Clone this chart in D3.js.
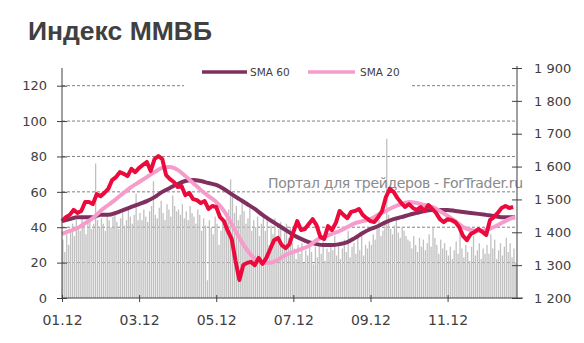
<!DOCTYPE html>
<html>
<head>
<meta charset="utf-8">
<script src="https://cdn.jsdelivr.net/npm/d3@7"></script>
<style>
  body { margin: 0; background: #fff; }
  svg { display: block; }
  .axis text { font-family: "DejaVu Sans", sans-serif; fill: #404040; }
</style>
</head>
<body>
<div id="chart"></div>
<script>
// month tick labels (every 2nd month), index of first trading day for each
const monthLabels = ["01.12", "03.12", "05.12", "07.12", "09.12", "11.12"];
const monthStarts = [0, 40, 80, 120, 160, 200];

// volume bars (left axis), 20 trading days per month, Dec cut at 16
const volJan = [33,26,36,30,38,42,35,44,40,38,45,41,36,43,47,39,42,76,44,40];
const volFeb = [45,42,38,47,44,40,46,49,43,39,45,48,41,44,50,46,42,47,59,44];
const volMar = [48,44,50,46,43,49,52,66,47,45,51,55,48,44,53,50,46,58,52,49];
const volApr = [50,47,53,45,49,44,52,48,46,42,50,47,38,45,41,10,44,40,36,46];
const volMay = [42,30,38,45,40,46,50,67,58,48,52,44,47,55,49,42,45,51,38,44];
const volJun = [40,46,35,42,48,38,44,30,41,36,45,33,39,43,28,37,42,34,40,31];
const volJul = [28,22,30,25,31,20,27,24,32,26,19,29,23,30,25,33,21,28,26,30];
const volAug = [27,35,24,30,22,28,33,26,38,23,29,31,25,34,27,36,24,30,28,32];
const volSep = [30,36,33,40,44,35,38,42,90,47,39,36,41,45,37,34,40,38,35,33];
const volOct = [32,28,35,30,26,34,29,33,27,31,36,29,40,34,30,25,33,28,31,27];
const volNov = [24,29,22,27,32,25,37,28,23,30,26,21,29,35,24,27,31,22,28,25];
const volDec = [30,25,36,28,33,22,27,31,24,29,34,26,31,23,28,20];

// MICEX index, every 2nd trading day (right axis)
const micex = [1434,1446,1453,1468,1459,1465,1492,1492,1486,1516,1510,1520,1532,1559,1568,1583,
  1578,1571,1593,1583,1596,1605,1614,1587,1623,1632,1623,1574,1562,1553,1538,1541,1513,1520,
  1501,1498,1489,1495,1471,1480,1477,1446,1434,1404,1380,1313,1255,1300,1307,1310,1300,1322,
  1304,1322,1349,1376,1383,1361,1352,1364,1401,1434,1407,1410,1425,1440,1422,1386,1380,1419,
  1407,1428,1465,1453,1443,1462,1465,1471,1453,1443,1434,1431,1446,1465,1507,1532,1523,1504,
  1489,1477,1486,1474,1468,1477,1465,1483,1471,1459,1440,1431,1440,1437,1431,1416,1389,1376,
  1395,1401,1410,1401,1392,1437,1446,1459,1474,1480,1474,1477];

// moving averages, every 4th trading day (last point = last day)
const sma20 = [1395,1404,1413,1428,1443,1465,1483,1501,1520,1538,1553,1568,1583,1596,1599,1590,
  1571,1550,1529,1510,1492,1465,1425,1383,1346,1319,1307,1307,1316,1331,1340,1349,1358,1376,
  1386,1395,1404,1416,1428,1434,1440,1453,1465,1477,1486,1492,1489,1483,1477,1465,1450,1434,
  1416,1407,1404,1407,1416,1428,1440,1446];
const sma60 = [1434,1440,1446,1446,1446,1453,1453,1459,1468,1477,1486,1495,1507,1523,1535,1547,
  1556,1559,1556,1550,1544,1532,1516,1501,1486,1471,1453,1437,1422,1407,1392,1380,1370,1364,
  1361,1361,1364,1370,1383,1398,1410,1419,1431,1440,1446,1453,1459,1465,1468,1468,1468,1465,
  1462,1459,1456,1453,1450,1446,1446,1446];

const volume = [].concat(volJan, volFeb, volMar, volApr, volMay, volJun,
                         volJul, volAug, volSep, volOct, volNov, volDec);
const lastDay = volume.length - 1;

const width = 584, height = 343;
const plotLeft = 62, plotRight = 517, plotTop = 68, plotBottom = 298;

const svg = d3.select("#chart").append("svg")
    .attr("width", width)
    .attr("height", height);

const x = d3.scaleLinear().domain([0, 236]).range([plotLeft, plotRight]);
const yVol = d3.scaleLinear().domain([0, 130]).range([plotBottom, plotTop]);
const yIdx = d3.scaleLinear().domain([1200, 1900]).range([plotBottom, plotTop]);

// title
svg.append("text")
    .attr("x", 28)
    .attr("y", 40)
    .style("font-family", "'Liberation Sans', Arial, sans-serif")
    .style("font-weight", "bold")
    .style("font-size", "26.5px")
    .style("fill", "#404040")
    .text("Индекс ММВБ");

// dashed grid
svg.append("g")
    .selectAll("line")
    .data([20, 40, 60, 80, 100, 120])
    .enter()
    .append("line")
    .attr("x1", plotLeft)
    .attr("x2", plotRight)
    .attr("y1", d => yVol(d))
    .attr("y2", d => yVol(d))
    .attr("stroke", "#808080")
    .attr("stroke-width", 1)
    .style("stroke-dasharray", "3,2");

// volume bars
svg.append("g")
    .selectAll("rect")
    .data(volume)
    .enter()
    .append("rect")
    .attr("x", (d, i) => x(i) + 0.2)
    .attr("width", 1.3)
    .attr("y", d => yVol(d))
    .attr("height", d => plotBottom - yVol(d))
    .attr("fill", "#c0c0c0");

// watermark
svg.append("text")
    .attr("x", 268)
    .attr("y", 188)
    .attr("textLength", 255)
    .style("font-family", "'DejaVu Sans', sans-serif")
    .style("font-size", "14px")
    .style("fill", "#8a8a8a")
    .text("Портал для трейдеров - ForTrader.ru");

function series(vals, step) {
    return vals.map((v, i) => ({ i: Math.min(i * step, lastDay), v: v }));
}

const line = d3.line()
    .x(d => x(d.i))
    .y(d => yIdx(d.v))
    .curve(d3.curveMonotoneX);

svg.append("path")
    .datum(series(sma60, 4))
    .attr("d", line)
    .attr("fill", "none")
    .attr("stroke", "#80305f")
    .attr("stroke-width", 4);

svg.append("path")
    .datum(series(sma20, 4))
    .attr("d", line)
    .attr("fill", "none")
    .attr("stroke", "#f59ccb")
    .attr("stroke-width", 4);

svg.append("path")
    .datum(series(micex, 2))
    .attr("d", d3.line().x(d => x(d.i)).y(d => yIdx(d.v)))
    .attr("fill", "none")
    .attr("stroke", "#ec0a3c")
    .attr("stroke-width", 4)
    .attr("stroke-linejoin", "round");

// legend (white box hides the top grid line)
const key = svg.append("g");
key.append("rect")
    .attr("x", 184).attr("y", 60)
    .attr("width", 226).attr("height", 30)
    .attr("fill", "#fff");
key.append("line")
    .attr("x1", 202).attr("x2", 247).attr("y1", 72).attr("y2", 72)
    .attr("stroke", "#80305f").attr("stroke-width", 3.5);
key.append("text")
    .attr("x", 250).attr("y", 76)
    .style("font-family", "'DejaVu Sans', sans-serif")
    .style("font-size", "10.5px")
    .style("fill", "#404040")
    .text("SMA 60");
key.append("line")
    .attr("x1", 308).attr("x2", 355).attr("y1", 72).attr("y2", 72)
    .attr("stroke", "#f59ccb").attr("stroke-width", 3.5);
key.append("text")
    .attr("x", 360).attr("y", 76)
    .style("font-family", "'DejaVu Sans', sans-serif")
    .style("font-size", "10.5px")
    .style("fill", "#404040")
    .text("SMA 20");

// axes
const fmtSpace = d => d3.format(",")(d).replace(",", " ");

const gLeft = svg.append("g")
    .attr("class", "axis")
    .attr("transform", "translate(" + plotLeft + ",0)")
    .call(d3.axisLeft(yVol).tickValues([0, 20, 40, 60, 80, 100, 120]).tickSize(5).tickPadding(10));

const gRight = svg.append("g")
    .attr("class", "axis")
    .attr("transform", "translate(" + plotRight + ",0)")
    .call(d3.axisRight(yIdx).tickValues([1200, 1300, 1400, 1500, 1600, 1700, 1800, 1900])
        .tickFormat(fmtSpace).tickSize(5).tickPadding(12));

const gBottom = svg.append("g")
    .attr("class", "axis")
    .attr("transform", "translate(0," + plotBottom + ")")
    .call(d3.axisBottom(x).tickValues(monthStarts)
        .tickFormat((d, i) => monthLabels[i]).tickSize(4).tickPadding(13));

[gLeft, gRight].forEach(g => {
    g.select(".domain").attr("stroke", "#404040");
    g.selectAll(".tick line").attr("x1", -5).attr("x2", 5).attr("stroke", "#404040");
    g.selectAll("text").style("font-size", "13px");
});
gRight.select(".domain").attr("d", "M0," + plotBottom + "V" + (plotTop - 2));
gLeft.select(".domain").attr("d", "M0," + plotBottom + "V" + plotTop);
gBottom.select(".domain").attr("d", "M" + plotLeft + ",0H" + (plotRight + 6)).attr("stroke", "#404040");
gBottom.selectAll(".tick line").attr("y1", -3).attr("y2", 4).attr("stroke", "#404040");
gBottom.selectAll("text").style("font-size", "14px");
</script>
</body>
</html>
